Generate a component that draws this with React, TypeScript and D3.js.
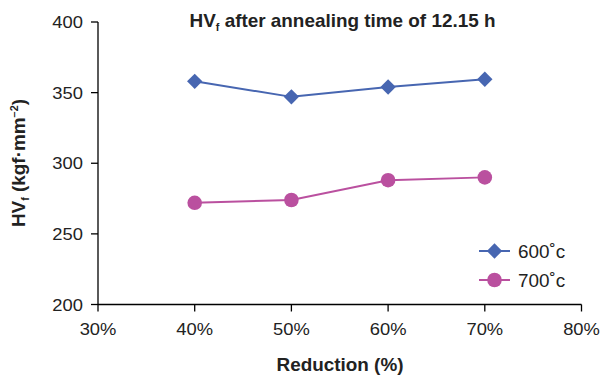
import React from "react";
import * as d3 from "d3";

const reductions = [40, 50, 60, 70];
const hv600 = [358, 347, 354, 359.5];
const hv700 = [272, 274, 288, 290];
const xTicks = [30, 40, 50, 60, 70, 80];
const yTicks = [200, 250, 300, 350, 400];
const seriesNames = ["600˚c", "700˚c"];

const W = 608;
const H = 376;
const FONT = "'Liberation Sans', Arial, Helvetica, sans-serif";
const BLUE = "#4766B1";
const MAGENTA = "#BA509F";
const INK = "#222";
const STRETCH = 1.08;

// Text drawn at (x, y) with a slight horizontal widening of the glyphs
function Txt({
  x,
  y,
  size,
  anchor = "start",
  bold = false,
  rotate = 0,
  children,
}: {
  x: number;
  y: number;
  size: number;
  anchor?: "start" | "middle" | "end";
  bold?: boolean;
  rotate?: number;
  children: React.ReactNode;
}) {
  return (
    <text
      transform={`translate(${x},${y}) rotate(${rotate}) scale(${STRETCH},1)`}
      textAnchor={anchor}
      fontSize={size}
      fontWeight={bold ? "bold" : "normal"}
      fill={INK}
    >
      {children}
    </text>
  );
}

export default function App() {
  const x = d3.scaleLinear().domain([30, 80]).range([98, 581.5]);
  const y = d3.scaleLinear().domain([200, 400]).range([304.5, 22]);
  const line = d3
    .line<[number, number]>()
    .x((d) => x(d[0]))
    .y((d) => y(d[1]));

  const pts600: [number, number][] = reductions.map((r, i) => [r, hv600[i]]);
  const pts700: [number, number][] = reductions.map((r, i) => [r, hv700[i]]);
  const diamond = d3.symbol(d3.symbolDiamond2, 150)()!;

  return (
    <svg
      width={W}
      height={H}
      style={{ position: "absolute", left: 0, top: 0, background: "#fff" }}
      fontFamily={FONT}
    >
      {/* title */}
      <Txt x={342.5} y={27} size={17.5} anchor="middle" bold>
        HV<tspan fontSize={10} dy={4}>f</tspan>
        <tspan dy={-4}> after annealing time of 12.15 h</tspan>
      </Txt>

      {/* axes */}
      <line x1={x(30)} x2={x(30)} y1={y(400)} y2={y(200)} stroke="#000" strokeWidth={1.3} />
      <line x1={x(30)} x2={x(80)} y1={y(200)} y2={y(200)} stroke="#000" strokeWidth={1.3} />
      {yTicks.map((t) => (
        <g key={"y" + t}>
          <line x1={x(30) - 7} x2={x(30)} y1={y(t)} y2={y(t)} stroke="#000" strokeWidth={1.3} />
          <Txt x={x(30) - 15} y={y(t) + 6} size={17} anchor="end">
            {t}
          </Txt>
        </g>
      ))}
      {xTicks.map((t) => (
        <g key={"x" + t}>
          <line x1={x(t)} x2={x(t)} y1={y(200)} y2={y(200) + 7} stroke="#000" strokeWidth={1.3} />
          <Txt x={x(t)} y={335} size={17} anchor="middle">
            {t}%
          </Txt>
        </g>
      ))}

      {/* axis titles */}
      <Txt x={340} y={371} size={17.5} anchor="middle" bold>
        Reduction (%)
      </Txt>
      <Txt x={25} y={163} size={17.5} anchor="middle" bold rotate={-90}>
        HV<tspan fontSize={10} dy={4}>f</tspan>
        <tspan dy={-4}> (kgf·mm</tspan>
        <tspan fontSize={10} dy={-7}>−2</tspan>
        <tspan dy={7}>)</tspan>
      </Txt>

      {/* series */}
      <path d={line(pts600)!} fill="none" stroke={BLUE} strokeWidth={2} />
      {pts600.map((p, i) => (
        <path key={"d" + i} d={diamond} transform={`translate(${x(p[0])},${y(p[1])})`} fill={BLUE} />
      ))}
      <path d={line(pts700)!} fill="none" stroke={MAGENTA} strokeWidth={2} />
      {pts700.map((p, i) => (
        <circle key={"c" + i} cx={x(p[0])} cy={y(p[1])} r={7.3} fill={MAGENTA} />
      ))}

      {/* legend */}
      <g>
        <line x1={479} x2={510} y1={251} y2={251} stroke={BLUE} strokeWidth={2} />
        <path d={diamond} transform="translate(494.5,251)" fill={BLUE} />
        <Txt x={518} y={257.5} size={17.5}>{seriesNames[0]}</Txt>
        <line x1={479} x2={510} y1={280} y2={280} stroke={MAGENTA} strokeWidth={2} />
        <circle cx={494.5} cy={280} r={7.3} fill={MAGENTA} />
        <Txt x={518} y={286.5} size={17.5}>{seriesNames[1]}</Txt>
      </g>
    </svg>
  );
}
